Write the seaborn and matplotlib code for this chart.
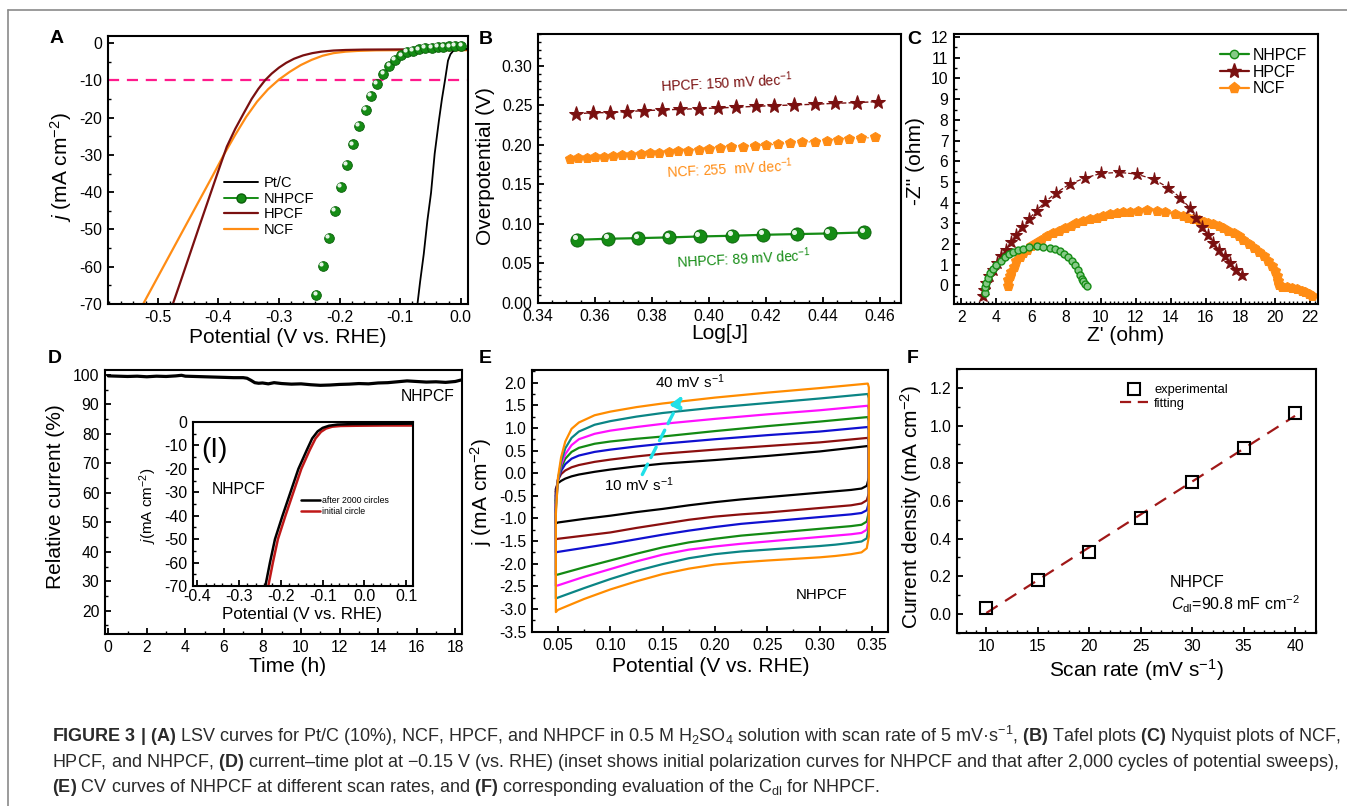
import numpy as np
import pandas as pd
import matplotlib
matplotlib.use("Agg")
import matplotlib.pyplot as plt
import matplotlib.ticker as mticker
from matplotlib import font_manager
from matplotlib.lines import Line2D
from matplotlib.transforms import offset_copy
import seaborn as sns

# ---------------- data ----------------
# (A) LSV curves
lsv_pt_x = [-0.0714, -0.067, -0.061, -0.055, -0.049, -0.043, -0.036, -0.031, -0.026, -0.021, -0.017, -0.013, -0.008, 0.0, 0.012]
lsv_pt_y = [-70, -64, -56.6, -47.6, -40.2, -29.7, -20.8, -15, -10, -4.7, -3.0, -2.2, -1.8, -1.6, -1.5]
lsv_nhpcf_x = [-0.238, -0.228, -0.2176, -0.2077, -0.198, -0.188, -0.1775, -0.1676, -0.157, -0.148, -0.138, -0.1275,
               -0.1176, -0.108, -0.098, -0.0885, -0.0786, -0.0687, -0.0588, -0.048, -0.038, -0.0286, -0.0187, -0.009, 0.001]
lsv_nhpcf_y = [-67.6, -59.7, -52.2, -45.1, -38.6, -32.6, -27.2, -22.2, -17.9, -14.1, -10.9, -8.3,
               -6.2, -4.5, -3.3, -2.4, -2.0, -1.7, -1.4, -1.25, -1.1, -1.0, -0.9, -0.8, -0.8]
lsv_hpcf_x = [-0.475, -0.46, -0.445, -0.43, -0.415, -0.40, -0.386, -0.372, -0.358, -0.345, -0.334, -0.323,
              -0.312, -0.3, -0.288, -0.275, -0.26, -0.245, -0.23, -0.21, -0.19, -0.16, -0.1, 0.012]
lsv_hpcf_y = [-70, -62.9, -55.7, -48.5, -41.4, -34.3, -27.8, -23.0, -18.8, -15.0, -12.3, -10.0,
              -8.2, -6.6, -5.3, -4.2, -3.3, -2.7, -2.3, -2.0, -1.85, -1.75, -1.7, -1.7]
lsv_ncf_x = [-0.524, -0.505, -0.486, -0.467, -0.448, -0.429, -0.41, -0.391, -0.372, -0.354, -0.336, -0.318,
             -0.3, -0.282, -0.264, -0.246, -0.228, -0.21, -0.19, -0.17, -0.14, -0.1, 0.012]
lsv_ncf_y = [-70, -64.3, -58.6, -52.9, -47.2, -41.5, -35.8, -30.0, -24.6, -19.8, -15.7, -12.4,
             -9.8, -7.7, -5.9, -4.5, -3.4, -2.7, -2.3, -2.1, -1.95, -1.9, -1.9]

# (B) Tafel plots
taf_hpcf_x = [0.3535, 0.3592, 0.3653, 0.3712, 0.3773, 0.3836, 0.3900, 0.3965, 0.4032, 0.4095, 0.4164, 0.4229,
              0.4298, 0.4371, 0.4444, 0.4518, 0.4592]
taf_hpcf_y = [0.239, 0.2406, 0.2406, 0.2419, 0.2432, 0.244, 0.2448, 0.2457, 0.2465, 0.2474, 0.2486, 0.2495,
              0.2503, 0.2512, 0.2524, 0.2533, 0.2545]
taf_ncf_x = [0.3512, 0.3541, 0.3571, 0.3600, 0.3632, 0.3662, 0.3694, 0.3727, 0.3760, 0.3793, 0.3826, 0.3859,
             0.3893, 0.3928, 0.3964, 0.4000, 0.4039, 0.4079, 0.4119, 0.4160, 0.4201, 0.4244, 0.4286, 0.4328,
             0.4371, 0.4413, 0.4453, 0.4493, 0.4535, 0.4582]
taf_ncf_y = [0.182, 0.1828, 0.1836, 0.1843, 0.1851, 0.1859, 0.1867, 0.1876, 0.1884, 0.1893, 0.1901, 0.191,
             0.1918, 0.1927, 0.1937, 0.1946, 0.1956, 0.1966, 0.1977, 0.1987, 0.1998, 0.2009, 0.2019, 0.203,
             0.2041, 0.2051, 0.2061, 0.2071, 0.2082, 0.2095]
taf_nhpcf_x = [0.3538, 0.3647, 0.3751, 0.386, 0.3968, 0.4082, 0.4191, 0.4308, 0.4424, 0.4545]
taf_nhpcf_y = [0.0799, 0.0812, 0.082, 0.0829, 0.0841, 0.085, 0.0862, 0.0871, 0.0879, 0.0892]

# (C) Nyquist plots
nyq_nhpcf_x = [3.34, 3.36, 3.4, 3.5, 3.63, 3.8, 4.01, 4.25, 4.49, 4.73, 4.97, 5.25, 5.54, 5.9, 6.31, 6.7, 7.07,
               7.38, 7.65, 7.9, 8.12, 8.33, 8.51, 8.66, 8.79, 8.9, 8.99, 9.1, 9.18]
nyq_nhpcf_y = [-0.37, -0.1, 0.11, 0.35, 0.59, 0.8, 1.0, 1.2, 1.37, 1.5, 1.61, 1.7, 1.78, 1.84, 1.88, 1.87, 1.82,
               1.74, 1.64, 1.51, 1.37, 1.19, 1.0, 0.76, 0.51, 0.33, 0.19, 0.06, -0.02]
nyq_hpcf_x = [3.24, 3.28, 3.40, 3.59, 3.82, 4.05, 4.30, 4.58, 4.87, 5.16, 5.5, 5.87, 6.31, 6.82, 7.45, 8.22, 9.08,
              10.0, 11.03, 12.05, 13.04, 13.87, 14.54, 15.11, 15.45, 15.78, 16.16, 16.45, 16.74, 17.12, 17.41,
              17.75, 18.08]
nyq_hpcf_y = [-0.53, -0.21, 0.11, 0.43, 0.75, 1.08, 1.4, 1.72, 2.12, 2.44, 2.84, 3.21, 3.61, 4.05, 4.48, 4.9, 5.19,
              5.41, 5.46, 5.38, 5.12, 4.72, 4.24, 3.73, 3.25, 2.81, 2.44, 2.04, 1.72, 1.4, 1.08, 0.75, 0.48]
nyq_ncf_x = [4.68, 4.7, 4.78, 4.87, 5.0, 5.16, 5.34, 5.54, 5.78, 6.02, 6.3, 6.59, 6.92, 7.26, 7.6, 7.93, 8.27, 8.6,
             8.98, 9.37, 9.75, 10.13, 10.5, 10.9, 11.28, 11.66, 12.14, 12.62, 13.2, 13.67, 14.25, 14.73, 15.0,
             15.3, 15.6, 15.88, 16.16, 16.45, 16.74, 17.02, 17.3, 17.6, 17.9, 18.17, 18.46, 18.75, 19.04, 19.32,
             19.56, 19.8, 19.95, 20.09, 20.15, 20.18, 20.4, 20.66, 20.95, 21.23, 21.5, 21.71, 21.9, 22.1]
nyq_ncf_y = [-0.05, 0.25, 0.45, 0.65, 0.9, 1.16, 1.38, 1.56, 1.73, 1.88, 2.05, 2.2, 2.37, 2.52, 2.65, 2.76, 2.89,
             3.0, 3.1, 3.2, 3.28, 3.36, 3.43, 3.49, 3.53, 3.57, 3.6, 3.62, 3.61, 3.55, 3.44, 3.33, 3.27, 3.21,
             3.15, 3.08, 3.02, 2.96, 2.87, 2.76, 2.65, 2.52, 2.37, 2.2, 2.02, 1.83, 1.62, 1.4, 1.16, 0.92, 0.68,
             0.43, 0.2, 0.0, -0.06, -0.1, -0.14, -0.18, -0.26, -0.34, -0.43, -0.53]

# (D) stability test and inset
stab_time = [0, 0.5, 1, 1.5, 2, 2.5, 3, 3.5, 3.8, 4, 4.5, 5, 5.5, 6, 6.5, 7, 7.2, 7.4, 7.6, 7.8, 8, 8.3, 8.6, 9,
             9.5, 10, 10.5, 11, 11.5, 12, 12.5, 13, 13.5, 14, 14.5, 15, 15.5, 16, 16.5, 17, 17.5, 18, 18.3]
stab_rel = [99.7, 99.6, 99.5, 99.6, 99.4, 99.6, 99.5, 99.7, 99.9, 99.6, 99.5, 99.4, 99.3, 99.2, 99.1, 99.1, 98.9,
            98.2, 97.4, 97.2, 97.3, 97.0, 97.4, 97.1, 96.9, 97.0, 96.7, 96.5, 96.6, 96.8, 96.9, 97.1, 97.0, 97.3,
            97.4, 97.7, 98.0, 97.8, 97.6, 97.7, 97.5, 97.8, 98.3]
ins_after_x = [-0.237, -0.226, -0.214, -0.196, -0.177, -0.158, -0.138, -0.125, -0.112, -0.1, -0.085, -0.065,
               -0.03, 0.05, 0.116]
ins_after_y = [-70, -60, -50, -40, -30, -20, -12, -7, -4, -2.5, -1.6, -1.1, -0.9, -0.8, -0.7]
ins_init_x = [-0.23, -0.219, -0.207, -0.189, -0.17, -0.151, -0.131, -0.117, -0.104, -0.092, -0.077, -0.057,
              -0.02, 0.05, 0.116]
ins_init_y = [-70, -60, -50, -40, -30, -20, -12, -7, -4.2, -2.8, -2.0, -1.7, -1.6, -1.5, -1.5]

# (E) CV curves, upper (anodic, left->right) and lower (cathodic, right->left) branches
cv_rates = [10, 15, 20, 25, 30, 35, 40]
cv_colors = ["#000000", "#8b0f0f", "#1010d0", "#138a13", "#ff10ff", "#0b8585", "#ff8c00"]
cv_upper_x = [0.048, 0.050, 0.053, 0.057, 0.063, 0.070, 0.085, 0.100, 0.125, 0.150, 0.200, 0.250, 0.300, 0.346]
cv_lower_x = [0.347, 0.347, 0.345, 0.340, 0.330, 0.315, 0.300, 0.275, 0.250, 0.225, 0.200, 0.175, 0.150, 0.125,
              0.100, 0.075, 0.050, 0.048]
cv_upper = {
    10: [-0.35, -0.22, -0.17, -0.12, -0.07, -0.03, 0.03, 0.08, 0.15, 0.21, 0.29, 0.38, 0.48, 0.60],
    15: [-0.40, -0.15, -0.02, 0.06, 0.13, 0.18, 0.25, 0.30, 0.37, 0.43, 0.52, 0.60, 0.68, 0.78],
    20: [-0.50, -0.15, 0.05, 0.20, 0.32, 0.39, 0.47, 0.52, 0.59, 0.65, 0.75, 0.84, 0.92, 1.02],
    25: [-0.60, -0.15, 0.12, 0.32, 0.47, 0.56, 0.65, 0.70, 0.76, 0.81, 0.93, 1.04, 1.14, 1.24],
    30: [-0.70, -0.15, 0.18, 0.42, 0.62, 0.75, 0.87, 0.94, 1.02, 1.09, 1.20, 1.30, 1.39, 1.49],
    35: [-0.80, -0.15, 0.25, 0.55, 0.78, 0.92, 1.07, 1.15, 1.25, 1.33, 1.45, 1.55, 1.65, 1.75],
    40: [-0.90, -0.10, 0.35, 0.70, 0.98, 1.12, 1.28, 1.36, 1.46, 1.54, 1.67, 1.78, 1.88, 1.98],
}
cv_lower = {
    10: [0.55, -0.10, -0.28, -0.34, -0.37, -0.40, -0.43, -0.48, -0.53, -0.58, -0.64, -0.71, -0.79, -0.86,
         -0.94, -1.01, -1.09, -1.11],
    15: [0.70, -0.45, -0.60, -0.67, -0.71, -0.74, -0.77, -0.82, -0.87, -0.91, -0.96, -1.03, -1.12, -1.21,
         -1.31, -1.38, -1.45, -1.46],
    20: [0.95, -0.65, -0.82, -0.88, -0.91, -0.94, -0.97, -1.02, -1.07, -1.12, -1.19, -1.27, -1.36, -1.46,
         -1.56, -1.65, -1.74, -1.75],
    25: [1.15, -0.85, -1.07, -1.14, -1.17, -1.20, -1.23, -1.28, -1.33, -1.38, -1.45, -1.53, -1.64, -1.78,
         -1.93, -2.08, -2.24, -2.25],
    30: [1.40, -1.00, -1.25, -1.32, -1.35, -1.38, -1.41, -1.46, -1.51, -1.56, -1.62, -1.69, -1.80, -1.95,
         -2.12, -2.29, -2.48, -2.49],
    35: [1.65, -1.20, -1.44, -1.51, -1.54, -1.58, -1.61, -1.65, -1.69, -1.73, -1.79, -1.88, -2.01, -2.16,
         -2.34, -2.54, -2.75, -2.77],
    40: [1.90, -1.40, -1.66, -1.75, -1.79, -1.83, -1.86, -1.895, -1.93, -1.97, -2.02, -2.11, -2.23, -2.39,
         -2.57, -2.78, -3.02, -3.07],
}

# (F) double-layer current vs scan rate
scan_rate = [10, 15, 20, 25, 30, 35, 40]
cdl_current = [0.03, 0.18, 0.33, 0.51, 0.70, 0.88, 1.067]

# ---------------- style ----------------
sns.set_theme(style="ticks")
plt.rcParams['font.family'] = ['Liberation Sans', 'DejaVu Sans']


def has_font(name):
    try:
        font_manager.findfont(font_manager.FontProperties(family=name), fallback_to_default=False)
        return True
    except Exception:
        return False


cap_family = 'Liberation Sans Narrow' if has_font('Liberation Sans Narrow') else 'Liberation Sans'
plt.rcParams.update({
    'axes.unicode_minus': False,
    'axes.edgecolor': 'black', 'axes.labelcolor': 'black', 'text.color': 'black',
    'xtick.color': 'black', 'ytick.color': 'black',
    'axes.linewidth': 1.5,
    'xtick.direction': 'in', 'ytick.direction': 'in',
    'xtick.major.size': 4.5, 'ytick.major.size': 4.5,
    'xtick.minor.size': 2.3, 'ytick.minor.size': 2.3,
    'xtick.major.width': 1.3, 'ytick.major.width': 1.3,
    'xtick.minor.width': 1.0, 'ytick.minor.width': 1.0,
    'xtick.major.pad': 4.5, 'ytick.major.pad': 4,
    'xtick.labelsize': 11.3, 'ytick.labelsize': 11.3,
    'axes.labelsize': 15,
    'mathtext.fontset': 'custom',
    'mathtext.rm': 'Liberation Sans',
    'mathtext.it': 'Liberation Sans:italic',
    'mathtext.bf': cap_family + ':bold',
})

W, H = 1347, 806
fig = plt.figure(figsize=(W / 100, H / 100), dpi=100)
fig.patch.set_facecolor('white')


def panel(l, r, t, b):
    return fig.add_axes([l / W, 1 - b / H, (r - l) / W, (b - t) / H])


def ftext(px, py, s, **kw):
    return fig.text(px / W, 1 - py / H, s, **kw)


def ticks(ax, xmaj, xmin, ymaj, ymin):
    ax.xaxis.set_major_locator(mticker.MultipleLocator(xmaj))
    ax.xaxis.set_minor_locator(mticker.MultipleLocator(xmin))
    ax.yaxis.set_major_locator(mticker.MultipleLocator(ymaj))
    ax.yaxis.set_minor_locator(mticker.MultipleLocator(ymin))


def leg(ax, handles, labels, px, py, fs, hl, htp, ls):
    ax.legend(handles, labels, loc='center left', bbox_to_anchor=(px / W, 1 - py / H),
              bbox_transform=fig.transFigure, frameon=False, fontsize=fs, handlelength=hl,
              handletextpad=htp, labelspacing=ls, borderpad=0, borderaxespad=0, numpoints=1)


GREEN = '#158c15'
DKGREEN = '#0a5f0a'
DKRED = '#7a1010'
ORANGE = '#ff8c14'
line_kw = dict(sort=False, estimator=None, legend=False)

# ---------------- (A) ----------------
axA = panel(108, 468, 36, 304)
axA.axhline(-10, color='#ff1a8c', ls=(0, (5, 3.5)), lw=1.6, zorder=1)
sns.lineplot(x=lsv_ncf_x, y=lsv_ncf_y, ax=axA, color=ORANGE, lw=1.6, **line_kw)
sns.lineplot(x=lsv_hpcf_x, y=lsv_hpcf_y, ax=axA, color=DKRED, lw=1.6, **line_kw)
sns.lineplot(x=lsv_pt_x, y=lsv_pt_y, ax=axA, color='black', lw=1.3, **line_kw)
sns.lineplot(x=lsv_nhpcf_x, y=lsv_nhpcf_y, ax=axA, color=GREEN, linestyle='', marker='o', ms=7,
             mec=DKGREEN, mew=0.6, **line_kw)
hlA = offset_copy(axA.transData, fig=fig, x=-1.3, y=1.3, units='points')
axA.plot(lsv_nhpcf_x, lsv_nhpcf_y, ls='', marker='o', ms=2, color='#e8f5e8', transform=hlA, zorder=5)
axA.set_xlim(-0.582, 0.012)
axA.set_ylim(-70, 1.9)
ticks(axA, 0.1, 0.02, 10, 5)
axA.set_xlabel('Potential (V vs. RHE)')
axA.set_ylabel('$j$ (mA cm$^{-2}$)')
axA.xaxis.set_label_coords(0.5, -0.088)
axA.yaxis.set_label_coords(-0.094, 0.51)
leg(axA, [Line2D([], [], color='black', lw=1.4),
          Line2D([], [], color=GREEN, lw=1.4, marker='o', ms=6.5, mec=DKGREEN),
          Line2D([], [], color=DKRED, lw=1.6),
          Line2D([], [], color=ORANGE, lw=1.6)],
    ['Pt/C', 'NHPCF', 'HPCF', 'NCF'], 224, 206.5, 10.5, 2.35, 0.35, 0.12)

# ---------------- (B) ----------------
axB = panel(538, 901, 34, 303)
sns.lineplot(x=taf_hpcf_x, y=taf_hpcf_y, ax=axB, color=DKRED, lw=1.0, linestyle='--', marker='*', ms=11,
             mec=DKRED, **line_kw)
sns.lineplot(x=taf_ncf_x, y=taf_ncf_y, ax=axB, color=ORANGE, lw=1.0, linestyle=':', marker='p', ms=7.5,
             mec=ORANGE, **line_kw)
sns.lineplot(x=taf_nhpcf_x, y=taf_nhpcf_y, ax=axB, color=GREEN, lw=1.6, marker='o', ms=9.5,
             mec=DKGREEN, mew=0.6, **line_kw)
hlB = offset_copy(axB.transData, fig=fig, x=-1.8, y=1.8, units='points')
axB.plot(taf_nhpcf_x, taf_nhpcf_y, ls='', marker='o', ms=2.6, color='#e8f5e8', transform=hlB, zorder=5)
axB.set_xlim(0.34, 0.4674)
axB.set_ylim(0, 0.34)
ticks(axB, 0.02, 0.005, 0.05, 0.01)
axB.set_xlabel('Log[J]')
axB.set_ylabel('Overpotential (V)')
axB.xaxis.set_label_coords(0.5, -0.078)
axB.yaxis.set_label_coords(-0.118, 0.51)
tkw = dict(fontsize=10, rotation=3, rotation_mode='anchor', ha='left', va='baseline')
ftext(661, 92, 'HPCF: 150 mV dec$^{-1}$', color=DKRED, **tkw)
ftext(667, 178, 'NCF: 255  mV dec$^{-1}$', color=ORANGE, **tkw)
ftext(677, 268, 'NHPCF: 89 mV dec$^{-1}$', color=GREEN, **tkw)

# ---------------- (C) ----------------
axC = panel(954, 1318, 34, 304)
sns.lineplot(x=nyq_ncf_x, y=nyq_ncf_y, ax=axC, color=ORANGE, lw=1.0, marker='p', ms=7, mec=ORANGE, **line_kw)
sns.lineplot(x=nyq_hpcf_x, y=nyq_hpcf_y, ax=axC, color=DKRED, lw=0.9, linestyle='--', marker='*', ms=9.5,
             mec=DKRED, **line_kw)
sns.lineplot(x=nyq_nhpcf_x, y=nyq_nhpcf_y, ax=axC, color=GREEN, lw=1.0, marker='o', ms=5, mfc='#86c986',
             mec=GREEN, mew=1.0, **line_kw)
axC.set_xlim(1.58, 22.44)
axC.set_ylim(-0.9, 12.15)
ticks(axC, 2, 0.25, 1, 0.5)
axC.set_xlabel("Z' (ohm)")
axC.set_ylabel("-Z'' (ohm)")
axC.xaxis.set_label_coords(0.47, -0.081)
axC.yaxis.set_label_coords(-0.08, 0.53)
leg(axC, [Line2D([], [], color=GREEN, lw=1.6, marker='o', ms=6, mfc='#86c986', mec=GREEN),
          Line2D([], [], color=DKRED, lw=1.6, marker='*', ms=11, mec=DKRED),
          Line2D([], [], color=ORANGE, lw=1.6, marker='p', ms=8, mec=ORANGE)],
    ['NHPCF', 'HPCF', 'NCF'], 1220, 72, 11.4, 1.8, 0.3, 0.1)

# ---------------- (D) ----------------
axD = panel(105, 462, 370, 634)
sns.lineplot(x=stab_time, y=stab_rel, ax=axD, color='black', lw=2.3, **line_kw)
axD.set_xlim(-0.17, 18.35)
axD.set_ylim(12.1, 101.7)
ticks(axD, 2, 1, 10, 5)
axD.set_xlabel('Time (h)')
axD.set_ylabel('Relative current (%)')
axD.xaxis.set_label_coords(0.51, -0.087)
axD.yaxis.set_label_coords(-0.112, 0.52)
ftext(401, 401, 'NHPCF', fontsize=11.3, ha='left', va='baseline')

axI = panel(193, 413, 422, 586)
axI.set_facecolor('white')
sns.lineplot(x=ins_init_x, y=ins_init_y, ax=axI, color='#c01818', lw=1.8, **line_kw)
sns.lineplot(x=ins_after_x, y=ins_after_y, ax=axI, color='black', lw=1.8, **line_kw)
axI.set_xlim(-0.41, 0.116)
axI.set_ylim(-70, 0)
ticks(axI, 0.1, 0.02, 10, 5)
axI.tick_params(labelsize=11.5)
axI.tick_params(axis='x', pad=2.5)
axI.set_xlabel('Potential (V vs. RHE)', fontsize=12.2)
axI.set_ylabel('$j$(mA cm$^{-2}$)', fontsize=11)
axI.xaxis.set_label_coords(0.496, -0.13)
axI.yaxis.set_label_coords(-0.155, 0.49)
ftext(201, 457, '(I)', fontsize=20, ha='left', va='baseline')
ftext(212, 494, 'NHPCF', fontsize=11.3, ha='left', va='baseline')
leg(axI, [Line2D([], [], color='black', lw=1.8), Line2D([], [], color='#c01818', lw=1.8)],
    ['after 2000 circles', 'initial circle'], 301, 506, 6.3, 2.2, 0.15, 0.24)

# ---------------- (E) ----------------
axE = panel(532, 888, 370, 632)
for rate, col in zip(cv_rates, cv_colors):
    loop_x = cv_upper_x + cv_lower_x + [cv_upper_x[0]]
    loop_y = cv_upper[rate] + cv_lower[rate] + [cv_upper[rate][0]]
    cv = pd.DataFrame({'E': loop_x, 'j': loop_y})
    sns.lineplot(data=cv, x='E', y='j', ax=axE, color=col, lw=1.6, **line_kw)
axE.annotate('', xy=(0.1688, 1.72), xytext=(0.1306, -0.03),
             arrowprops=dict(arrowstyle='-|>,head_width=0.28,head_length=0.55', color='#20e0e8',
                             lw=2.4, ls=(0, (3.5, 2.2)), shrinkA=0, shrinkB=0))
axE.set_xlim(0.0252, 0.3653)
axE.set_ylim(-3.51, 2.28)
ticks(axE, 0.05, 0.025, 0.5, 0.25)
axE.set_xlabel('Potential (V vs. RHE)')
axE.set_ylabel('j (mA cm$^{-2}$)')
axE.xaxis.set_label_coords(0.503, -0.095)
axE.yaxis.set_label_coords(-0.107, 0.534)
ftext(655, 388, '40 mV s$^{-1}$', fontsize=11, ha='left', va='baseline')
ftext(604, 491, '10 mV s$^{-1}$', fontsize=11, ha='left', va='baseline')
ftext(796, 599, 'NHPCF', fontsize=10.8, ha='left', va='baseline')

# ---------------- (F) ----------------
axF = panel(957, 1316, 369, 633)
sns.regplot(x=scan_rate, y=cdl_current, ax=axF, scatter=False, ci=None, truncate=True,
            line_kws=dict(color='#a01818', ls=(0, (6, 4)), lw=1.6))
sns.lineplot(x=scan_rate, y=cdl_current, ax=axF, color='black', linestyle='', marker='s', ms=8.5,
             mfc='none', mec='black', mew=1.5, **line_kw)
axF.set_xlim(7.15, 42.04)
axF.set_ylim(-0.101, 1.3)
ticks(axF, 5, 1, 0.2, 0.1)
axF.set_xlabel('Scan rate (mV s$^{-1}$)')
axF.set_ylabel('Current density (mA cm$^{-2}$)')
axF.xaxis.set_label_coords(0.50, -0.091)
axF.yaxis.set_label_coords(-0.092, 0.477)
leg(axF, [Line2D([], [], ls='', marker='s', ms=8, mfc='none', mec='black', mew=1.5),
          Line2D([], [], color='#a01818', ls=(0, (5, 3)), lw=1.6)],
    ['experimental', 'fitting'], 1120, 397, 9.3, 2.2, 0.45, 0.12)
ftext(1170, 587, 'NHPCF', fontsize=11.5, ha='left', va='baseline')
ftext(1171, 610, '$C_{\\rm dl}$=90.8 mF cm$^{-2}$', fontsize=11.5, ha='left', va='baseline')

# ---------------- panel letters, frame, caption ----------------
for letter, px, py in [('A', 50, 43), ('B', 479, 44), ('C', 907, 44),
                       ('D', 48, 363), ('E', 479, 363), ('F', 907, 363)]:
    ftext(px, py, letter, fontsize=14, fontweight='bold', ha='left', va='baseline')

fig.add_artist(Line2D([8 / W, 1], [1 - 10 / H, 1 - 10 / H], transform=fig.transFigure, color='#8a8a8a', lw=1.2))
fig.add_artist(Line2D([8 / W, 8 / W], [1 - 10 / H, 0], transform=fig.transFigure, color='#8a8a8a', lw=1.2))

cap_lines = [
    r'$\mathbf{FIGURE\ 3\ |\ (A)}$ LSV curves for Pt/C (10%), NCF, HPCF, and NHPCF in 0.5 M H$_2$SO$_4$ '
    r'solution with scan rate of 5 mV·s$^{-1}$, $\mathbf{(B)}$ Tafel plots $\mathbf{(C)}$ Nyquist plots of NCF,',
    r'HPCF, and NHPCF, $\mathbf{(D)}$ current–time plot at −0.15 V (vs. RHE) (inset shows initial polarization '
    r'curves for NHPCF and that after 2,000 cycles of potential sweeps),',
    r'$\mathbf{(E)}$ CV curves of NHPCF at different scan rates, and $\mathbf{(F)}$ corresponding evaluation '
    r'of the C$_{\rm dl}$ for NHPCF.',
]
cap_texts = [ftext(52, 742 + 25 * i, s, fontsize=13, family=cap_family, color='#2a2a2a',
                   ha='left', va='baseline') for i, s in enumerate(cap_lines)]
renderer = fig.canvas.get_renderer()
width0 = cap_texts[0].get_window_extent(renderer).width
cap_size = 13 * 1283 / width0
for t in cap_texts:
    t.set_fontsize(cap_size)

fig.savefig('out.png', dpi=100, facecolor='white')
